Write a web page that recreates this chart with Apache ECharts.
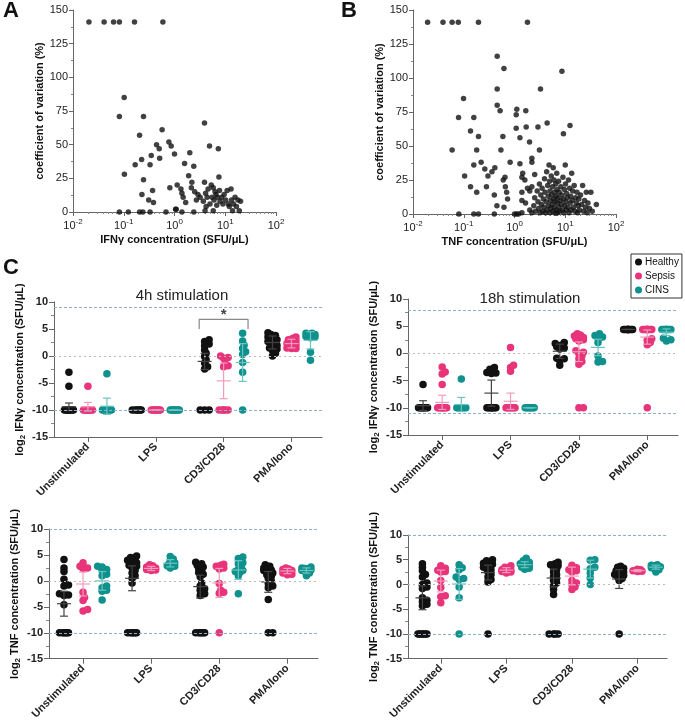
<!DOCTYPE html>
<html>
<head>
<meta charset="utf-8">
<script src="https://cdn.jsdelivr.net/npm/echarts@6/dist/echarts.min.js"></script>
<style>
  html, body { margin: 0; background: #fff; }
  #main { width: 685px; height: 722px; }
</style>
</head>
<body>
<div id="main"></div>
<script>
// ---- panel A / B : coefficient of variation vs concentration ----
const ifnCvPoints = [
  [0.0206,141],[0.041,141],[0.063,141],[0.082,141],[0.163,141],[0.59,141],
  [0.102,85],[0.082,71],[0.245,71],[0.205,57],[0.57,61],[0.103,28],[0.168,35],[0.225,39],
  [0.245,24],[0.228,13],[0.348,42],[0.33,35],[0.443,50],[0.5,47],[0.51,40],[0.775,52],
  [0.86,49],[1.0,43],[0.37,16],[0.31,9],[0.385,7],[0.81,18],[1.08,2],[1.13,20],[1.34,17],
  [1.4,14],[1.48,11],[1.58,36],[1.66,7],[1.9,27],[2.0,44],[2.2,22],[2.4,34],[2.15,18],
  [2.5,15],[2.7,9],[2.9,13],[3.2,11],[3.7,8],[3.9,66],[3.9,22],[4.1,14],[4.2,4],[4.4,11],
  [4.6,17],[4.9,49],[5.0,6],[5.3,20],[5.5,11],[5.8,18],[6.0,9],[6.3,15],[6.6,13],[6.8,5],
  [7.0,11],[7.3,47],[7.5,26],[7.7,16],[7.9,8],[8.5,11],[9.0,6],[9.5,13],[10.2,9],[10.9,16],
  [11.5,6],[12,4],[13,17],[13.3,9],[13.9,1],[14.5,6],[15.6,11],[16.6,4],[17.8,9],[18.9,1],
  [20,8],[5.8,1],[4.0,1],[1.05,2],
  [0.082,0],[0.123,0],[0.205,0],[0.238,0],[0.33,0],[0.68,0],[1.4,0],[2.4,0]
];
const tnfCvPoints = [
  [0.0194,141],[0.039,141],[0.059,141],[0.078,141],[0.195,141],[1.8,141],
  [0.456,116],[0.62,107],[0.456,92],[3.25,92],[8.6,105],[0.099,85],[0.079,71],[0.158,71],
  [0.456,80],[0.52,76],[1.11,77],[1.08,73],[1.67,76],[1.08,63],[1.28,56],[1.7,64],[2.9,64],
  [4.4,67],[12.4,65],[9.2,59],[0.136,61],[0.195,57],[0.59,57],[1.98,53],[3.1,47],[0.059,47],
  [0.18,47],[0.54,47],[0.104,28],[0.158,36],[0.22,38],[0.26,33],[0.36,31],[0.41,34],[0.3,28],
  [0.136,20],[0.18,16],[0.28,20],[0.4,14],[0.45,6],[0.6,25],[0.65,27],[0.66,20],[0.7,16],
  [0.73,11],[0.62,5],[0.82,38],[1.28,37],[1.45,30],[1.4,27],[1.6,25],[2.2,41],[2.2,38],
  [2.5,29],[2.2,20],[1.8,19],[2.0,17],[1.4,16],[1.4,10],[1.65,8],[1.0,0],[1.1,0],[1.2,0],
  [1.4,1],[0.08,0],[0.158,0],[0.195,0],[0.4,0],
  [2.0,3],[2.2,1],[2.4,6],[2.5,12],[2.6,2],[2.8,17],[2.9,9],[3.0,4],[3.1,22],[3.2,1],
  [3.3,14],[3.4,7],[3.5,19],[3.6,2],[3.7,11],[3.8,5],[3.9,26],[4.0,16],[4.1,1],[4.2,9],
  [4.3,31],[4.4,3],[4.5,21],[4.6,13],[4.7,6],[4.8,36],[4.9,24],[5.0,1],[5.0,17],[5.1,10],
  [5.2,4],[5.3,28],[5.4,14],[5.5,7],[5.6,20],[5.7,2],[5.8,34],[5.9,11],[6.0,25],[6.1,5],
  [6.2,16],[6.3,9],[6.4,0.5],[6.5,22],[6.6,13],[6.7,3],[6.8,30],[6.9,18],[7.0,8],[7.1,1],
  [7.2,12],[7.4,24],[7.5,5],[7.6,16],[7.8,2],[8.0,10],[8.2,20],[8.4,7],[8.6,14],[8.8,3],
  [9.0,27],[9.2,11],[9.4,1],[9.6,18],[9.8,6],[10.0,36],[10.1,22],[10.3,9],[10.5,3],[10.7,15],
  [11,12],[11.3,5],[11.6,25],[11.9,1],[12.2,19],[12.5,8],[12.8,13],[13.1,3],[13.4,30],[13.7,10],
  [14,17],[14.5,5],[15,21],[15.5,2],[16,12],[16.5,8],[17,16],[17.5,1],[18,6],[18.5,11],
  [19,3],[20,14],[21,7],[22,21],[23,2],[24,10],[25,5],[26,16],[27,1],[28,8],[30,4],[32,16],
  [34,2],[41,7]
];

// ---- panel C : log2 concentration per stimulation and group ----
const categories = ['Unstimulated', 'LPS', 'CD3/CD28', 'PMA/Iono'];
const groups = ['Healthy', 'Sepsis', 'CINS'];
const groupOffset = [-0.28, 0, 0.28];

const ifn4hHealthy = [
  [-3.0,-5.6,-10,-10,-10,-10,-10,-10,-10,-10],
  [-10,-10,-10,-10,-10,-10],
  [3.0,2.7,2.2,1.9,1.1,0.5,-0.1,-0.7,-1.3,-2.0,-2.4,-10,-10,-10],
  [4.3,4.0,3.8,3.5,3.3,3.0,2.7,2.5,2.2,2.0,1.7,1.5,1.3,1.0,0.5,0.0]
];
const ifn4hSepsis = [
  [-5.6,-10,-10,-10,-10,-10,-10,-10,-10],
  [-10,-10,-10,-10,-10,-10,-10],
  [0.0,-0.3,-0.4,-1.4,-1.8,-2.0,-10,-10,-10,-10,-10],
  [3.5,3.3,3.0,2.8,2.6,2.3,2.1,1.8,1.6,1.5,1.4,1.4]
];
const ifn4hCins = [
  [-3.3,-10,-10,-10,-10,-10,-10,-10],
  [-10,-10,-10,-10,-10,-10,-10,-10],
  [4.2,2.8,2.0,1.4,0.8,0.3,-1.2,-3.0,-10],
  [4.2,4.2,4.0,3.9,3.7,3.6,3.5,3.4,0.7,-0.8]
];
const ifn4hMean = [[-9.4,-9.4,-9.3],[-10,-10,-10],[-1.0,-4.6,-1.2],[2.5,2.3,2.9]];
const ifn4hSd   = [[0.7,0.8,1.5],[0,0,0],[1.5,3.3,3.5],[1.2,0.8,1.6]];

const ifn18hHealthy = [
  [-5.7,-10,-10,-10,-10,-10,-10,-10,-10],
  [-2.6,-2.9,-3.3,-3.5,-3.6,-3.7,-10,-10,-10,-10,-10,-10,-10,-10],
  [2.0,1.8,1.5,1.2,1.0,0.8,-0.9,-1.0,-1.3,-2.2],
  [4.4,4.4,4.4,4.4,4.4,4.4,4.4,4.4,4.4,4.4]
];
const ifn18hSepsis = [
  [-2.5,-3.4,-3.8,-5.7,-10,-10,-10,-10,-10,-10,-10,-10],
  [1.1,-2.2,-2.6,-3.3,-10,-10,-10,-10,-10,-10,-10],
  [3.6,3.4,3.2,3.0,2.9,2.8,2.7,2.5,2.3,0.5,0.2,0.0,-0.5,-1.0,-1.5,-2.0,-10,-10],
  [4.4,4.4,4.4,4.4,4.4,4.4,4.4,4.4,4.4,4.4,2.7,2.4,2.0,1.6,-10]
];
const ifn18hCins = [
  [-4.7,-10,-10,-10,-10,-10,-10,-10],
  [-10,-10,-10,-10,-10,-10,-10],
  [3.6,3.3,3.0,2.8,2.0,-0.5,-1.5,-1.6],
  [4.4,4.4,4.4,4.4,4.4,4.4,4.4,4.4,4.4,2.8,2.5,2.3]
];
const ifn18hMean = [[-9.6,-9.0,-9.4],[-7.3,-8.8,-10],[0.4,0.3,1.1],[4.4,3.0,3.9]];
const ifn18hSd   = [[0.9,1.3,1.3],[2.4,1.5,0],[1.3,1.8,1.5],[0,1.3,0.6]];

const tnf4hHealthy = [
  [4.1,2.5,1.8,0.3,-0.8,-1.0,-2.5,-2.7,-2.8,-4.6,-10,-10,-10,-10,-10,-10],
  [4.8,4.5,4.2,4.0,3.8,3.5,3.2,3.0,2.8,2.5,2.0,1.5,1.0,0.5,-0.4,-10,-10,-10,-10,-10,-10],
  [3.6,3.3,3.0,2.7,2.4,2.0,1.6,1.3,0.8,-0.4,-1.0,-1.5,-1.8,-2.5,-2.8,-10,-10,-10,-10,-10,-10],
  [3.1,2.8,2.5,2.3,2.1,2.0,1.8,1.5,1.2,0.9,0.5,0.0,-0.5,-1.0,-1.3,-3.6,-10,-10]
];
const tnf4hSepsis = [
  [3.5,2.8,2.5,2.4,-2.2,-3.2,-3.8,-5.5,-5.8],
  [3.1,2.9,2.7,2.5,2.4,2.3,2.2,2.1,2.0],
  [3.2,3.0,2.8,2.5,2.3,-0.5,-1.8,-2.2,-2.4,-10],
  [2.5,2.3,2.2,2.0,1.9,1.8,1.5,1.3,1.2]
];
const tnf4hCins = [
  [2.8,2.7,2.2,2.0,1.3,1.0,-1.0,-1.3,-1.8,-2.0,-3.7],
  [4.7,4.2,3.8,3.5,3.2,3.0,2.9,2.8,2.5],
  [4.6,4.3,3.5,3.3,2.7,2.2,2.0,1.8,1.6,1.0,-2.5],
  [2.7,2.5,2.4,2.3,2.1,2.0,1.8,1.5,1.0]
];
const tnf4hMean = [[-4.4,-0.6,0.0],[0.5,2.4,3.4],[-1.1,-0.4,2.1],[-0.2,1.9,2.0]];
const tnf4hSd   = [[2.4,2.3,1.8],[2.4,0.4,0.7],[2.2,2.8,1.8],[2.0,0.5,0.5]];

const tnf18hHealthy = [
  [4.2,3.5,2.8,2.0,1.5,0.3,0.0,-0.5,-0.8,-2.7,-3.2,-3.5,-4.0,-4.3,-10,-10,-10,-10,-10,-10,-10],
  [5.0,4.8,4.5,4.3,4.1,4.0,3.8,3.5,3.2,3.0,2.5,2.0,1.5,1.0,0.5,-10],
  [4.5,4.2,4.0,3.8,3.5,3.0,2.5,2.0,1.6,1.2,0.8,0.3,-0.3,-1.0,-2.0,-10,-10,-10,-10],
  [3.7,3.5,3.3,3.0,2.8,2.5,2.2,2.0,1.8,1.5,1.2,0.8,-10]
];
const tnf18hSepsis = [
  [3.8,3.3,3.0,2.9,2.6,2.5,0.8,-0.6,-2.3,-2.5,-3.7],
  [3.8,3.5,3.2,3.0,2.9,2.8,2.7,2.6,2.5,2.3],
  [3.9,3.4,3.2,3.0,2.8,2.5,0.8,0.3,0.0,-0.5,-1.0],
  [3.1,3.0,2.9,2.8,2.8,2.7,2.6]
];
const tnf18hCins = [
  [4.0,3.4,3.0,1.5,1.2,1.0,-0.5,-2.7,-10],
  [5.3,4.8,4.5,4.3,4.2,4.0,3.8,3.7,3.5,3.3,3.1],
  [5.0,4.9,3.5,3.2,2.3,1.3,0.0],
  [4.0,3.9,3.8,3.6,3.5,3.4,3.2,3.0,2.5]
];
const tnf18hMean = [[-2.7,0.7,0.1],[2.4,2.9,4.0],[1.3,1.7,3.1],[1.1,2.8,3.5]];
const tnf18hSd   = [[2.4,2.2,3.1],[1.5,0.5,0.6],[1.8,1.8,1.8],[1.9,0.2,0.4]];

const refLines = [[9, 0, -10], [8, 0, -11], [10, 0, -10], [10, 0, -10]];
const sigBracket = [[2.64, 5.0], [2.64, 6.8], [3.36, 6.8], [3.36, 5.0]];
const sigStar = [[3.0, 7.6]];

const panelTitles = ['4h stimulation', '18h stimulation'];
const panelYNames = [
  'log{sub|2} IFNγ concentration (SFU/μL)',
  'log{sub|2} IFNγ concentration (SFU/μL)',
  'log{sub|2} TNF concentration (SFU/μL)',
  'log{sub|2} TNF concentration (SFU/μL)'
];
const panels = [
  { groups: [ifn4hHealthy, ifn4hSepsis, ifn4hCins], mean: ifn4hMean, sd: ifn4hSd },
  { groups: [ifn18hHealthy, ifn18hSepsis, ifn18hCins], mean: ifn18hMean, sd: ifn18hSd },
  { groups: [tnf4hHealthy, tnf4hSepsis, tnf4hCins], mean: tnf4hMean, sd: tnf4hSd },
  { groups: [tnf18hHealthy, tnf18hSepsis, tnf18hCins], mean: tnf18hMean, sd: tnf18hSd }
];

// ---- layout / style ----
const FONT = 'Liberation Sans, Arial, sans-serif';
const dotColors = ['#111111', '#e8347a', '#0f918d'];
const barColors = ['#444444', '#f59bbd', '#6cc4c0'];
const cGrids = [
  { left: 54, top: 302, width: 268, height: 135 },
  { left: 408, top: 299, width: 270, height: 136 },
  { left: 49, top: 529, width: 269, height: 133 },
  { left: 408, top: 535, width: 259, height: 127 }
];
const X_MIN = 0.5, X_MAX = 4.45;

// simple beeswarm so identical values sit side by side (positions only, values untouched)
function swarm (vals, center, xPx, yPx) {
  const placed = [];
  const out = [];
  const sorted = vals.slice().sort((a, b) => a - b);
  const step = 1.5, minD = 3.5, maxK = 3;
  sorted.forEach(v => {
    let best = 0, bestScore = -1;
    for (let k = 0; k <= 2 * maxK; k++) {
      const off = (k % 2 ? 1 : -1) * Math.ceil(k / 2) * step;
      let dmin = Infinity;
      placed.forEach(p => {
        dmin = Math.min(dmin, Math.hypot(p[0] - off, (p[1] - v) * yPx));
      });
      if (dmin >= minD) { best = off; break; }
      if (dmin > bestScore) { bestScore = dmin; best = off; }
    }
    placed.push([best, v]);
    out.push([center + best / xPx, v]);
  });
  return out;
}

const axisLineStyle = { lineStyle: { color: '#666', width: 1 } };
const labelStyle = { color: '#222', fontSize: 11, fontWeight: 'bold', fontFamily: FONT };
const logLabel = {
  color: '#222', fontSize: 11, fontFamily: FONT,
  formatter: v => '10{sup|' + Math.round(Math.log10(v)) + '}',
  rich: { sup: { fontSize: 8, fontFamily: FONT, color: '#222', padding: [0, 0, 7, 0] } }
};

const grid = [
  { left: 73, top: 10, width: 203, height: 202 },
  { left: 413, top: 10, width: 203, height: 204 }
].concat(cGrids);

const xAxis = [];
const yAxis = [];
['IFNγ concentration (SFU/μL)', 'TNF concentration (SFU/μL)'].forEach((name, i) => {
  xAxis.push({
    gridIndex: i, type: 'log', logBase: 10, min: 0.01, max: 100,
    name, nameLocation: 'middle', nameGap: 22,
    nameTextStyle: { fontSize: 11, fontWeight: 'bold', color: '#111', fontFamily: FONT },
    axisLine: axisLineStyle, axisTick: { length: 4, lineStyle: { color: '#666' } },
    minorTick: { show: true, splitNumber: 9, length: 2, lineStyle: { color: '#888' } },
    axisLabel: Object.assign({ margin: 6 }, logLabel), splitLine: { show: false }
  });
  yAxis.push({
    gridIndex: i, type: 'value', min: 0, max: 150, interval: 25,
    name: 'coefficient of variation (%)', nameLocation: 'middle', nameGap: 26,
    nameTextStyle: { fontSize: 11, fontWeight: 'bold', color: '#111', fontFamily: FONT },
    axisLine: { show: true, lineStyle: { color: '#666' } },
    axisTick: { show: true, length: 4, lineStyle: { color: '#666' } },
    minorTick: { show: true, splitNumber: 2, length: 2, lineStyle: { color: '#888' } },
    axisLabel: { color: '#222', fontSize: 11, fontFamily: FONT, margin: 5 },
    splitLine: { show: false }
  });
});
cGrids.forEach((g, p) => {
  xAxis.push({
    gridIndex: p + 2, type: 'value', min: X_MIN, max: X_MAX,
    axisLine: { show: true, onZero: false, lineStyle: { color: '#666' } },
    axisTick: { show: true, length: 5, customValues: [1, 2, 3, 4], lineStyle: { color: '#666' } },
    axisLabel: Object.assign({
      rotate: 45, margin: 8, customValues: [1, 2, 3, 4],
      formatter: v => categories[Math.round(v) - 1] || ''
    }, labelStyle),
    splitLine: { show: false }
  });
  yAxis.push({
    gridIndex: p + 2, type: 'value', min: -15, max: 10, interval: 5,
    name: panelYNames[p], nameLocation: 'middle', nameGap: 27,
    nameTextStyle: {
      fontSize: 11, fontWeight: 'bold', color: '#111', fontFamily: FONT,
      rich: { sub: { fontSize: 8, fontWeight: 'bold', color: '#111', fontFamily: FONT, padding: [6, 0, 0, 0] } }
    },
    axisLine: { show: true, lineStyle: { color: '#666' } },
    axisTick: { show: true, length: 5, lineStyle: { color: '#666' } },
    minorTick: { show: true, splitNumber: 2, length: 3, lineStyle: { color: '#888' } },
    axisLabel: Object.assign({ margin: 6 }, labelStyle),
    splitLine: { show: false }
  });
});

const series = [
  { type: 'scatter', xAxisIndex: 0, yAxisIndex: 0, data: ifnCvPoints, symbolSize: 5.5,
    itemStyle: { color: '#111' }, silent: true },
  { type: 'scatter', xAxisIndex: 1, yAxisIndex: 1, data: tnfCvPoints, symbolSize: 5.5,
    itemStyle: { color: '#111' }, silent: true }
];

panels.forEach((panel, p) => {
  const xPx = cGrids[p].width / (X_MAX - X_MIN);
  const yPx = cGrids[p].height / 25;
  const ax = p + 2;
  // detection-limit reference lines
  series.push({
    type: 'line', xAxisIndex: ax, yAxisIndex: ax, data: [], silent: true,
    markLine: {
      silent: true, symbol: 'none', label: { show: false }, animation: false,
      data: refLines[p].map(v => ({
        yAxis: v,
        lineStyle: v === 0
          ? { color: '#bbbbbb', type: [2, 3], width: 1 }
          : { color: '#8fb0c6', type: [3, 2], width: 1 }
      }))
    }
  });
  panel.groups.forEach((byCat, g) => {
    const pts = [];
    byCat.forEach((vals, c) => {
      swarm(vals, c + 1 + groupOffset[g], xPx, yPx).forEach(d => pts.push(d));
    });
    series.push({
      name: groups[g], type: 'scatter', xAxisIndex: ax, yAxisIndex: ax,
      data: pts, symbolSize: 7.5, itemStyle: { color: dotColors[g], opacity: 1 }, silent: true, z: 3
    });
  });
  // mean +/- SD
  const bars = [];
  panel.mean.forEach((m, c) => {
    m.forEach((mv, g) => bars.push([c + 1 + groupOffset[g], mv, panel.sd[c][g], g]));
  });
  series.push({
    type: 'custom', xAxisIndex: ax, yAxisIndex: ax, data: bars, silent: true, z: 4,
    encode: { x: 0, y: 1 },
    renderItem: (params, api) => {
      const x = api.value(0), m = api.value(1), s = api.value(2), g = api.value(3);
      const pm = api.coord([x, m]);
      const pt = api.coord([x, m + s]);
      const pb = api.coord([x, m - s]);
      const st = { stroke: barColors[g], lineWidth: 1.2 };
      return {
        type: 'group',
        children: [
          { type: 'line', shape: { x1: pm[0] - 7, y1: pm[1], x2: pm[0] + 7, y2: pm[1] }, style: st },
          { type: 'line', shape: { x1: pt[0], y1: pt[1], x2: pb[0], y2: pb[1] }, style: st },
          { type: 'line', shape: { x1: pt[0] - 4, y1: pt[1], x2: pt[0] + 4, y2: pt[1] }, style: st },
          { type: 'line', shape: { x1: pb[0] - 4, y1: pb[1], x2: pb[0] + 4, y2: pb[1] }, style: st }
        ]
      };
    }
  });
});

// significance bracket in the 4h IFNγ panel
series.push({
  type: 'line', xAxisIndex: 2, yAxisIndex: 2, data: sigBracket, symbol: 'none', silent: true,
  lineStyle: { color: '#888', width: 1.2 }
});
series.push({
  type: 'scatter', xAxisIndex: 2, yAxisIndex: 2, data: sigStar, symbolSize: 2, silent: true,
  itemStyle: { color: 'rgba(255,255,255,0)' },
  label: { show: true, position: 'inside', formatter: '*', fontSize: 15, fontWeight: 'bold', color: '#111', fontFamily: FONT }
});

const titles = [
  { text: panelTitles[0], left: 177, top: 283 },
  { text: panelTitles[1], left: 525, top: 286 }
].map(t => Object.assign(t, {
  textAlign: 'center',
  textStyle: { fontSize: 15, fontWeight: 500, color: '#222', fontFamily: FONT }
}));

const chart = echarts.init(document.getElementById('main'), null, { renderer: 'canvas' });
chart.setOption({
  animation: false,
  backgroundColor: '#fff',
  title: titles,
  legend: {
    data: groups, orient: 'vertical', left: 631, top: 254,
    itemWidth: 7, itemHeight: 7, itemGap: 4, icon: 'circle',
    borderColor: '#333', borderWidth: 1, padding: [3, 3, 3, 4],
    textStyle: { fontSize: 10, color: '#111', fontFamily: FONT, padding: [0, 0, 0, -2] }
  },
  graphic: [
    { type: 'text', left: 3, top: 0, style: { text: 'A', fontSize: 22, fontWeight: 900, fill: '#111', fontFamily: FONT } },
    { type: 'text', left: 341, top: 0, style: { text: 'B', fontSize: 22, fontWeight: 900, fill: '#111', fontFamily: FONT } },
    { type: 'text', left: 3, top: 257, style: { text: 'C', fontSize: 22, fontWeight: 900, fill: '#111', fontFamily: FONT } }
  ],
  grid,
  xAxis,
  yAxis,
  series
});
</script>
</body>
</html>
